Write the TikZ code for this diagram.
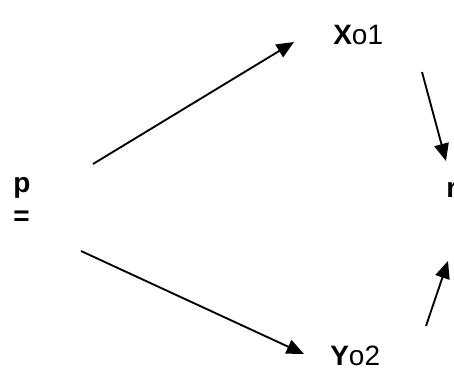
\documentclass[tikz,border=0pt]{standalone}
\usepackage{fontspec}
\setmainfont{Liberation Sans}
\usetikzlibrary{arrows.meta}
\tikzset{>={Triangle[length=13pt,width=11pt]},every node/.style={font=\fontsize{21}{25}\selectfont,inner sep=0pt},flow/.style={line width=1.4pt,->}}

\begin{document}
\begin{tikzpicture}[x=.75pt,y=-.75pt]
\useasboundingbox (0,0) rectangle (454,374);
\node[align=left,anchor=base west] (p) at (13,226) {\textbf{p}\\\textbf{=}};
\node[anchor=base west] (x) at (333,45) {\textbf{X}o1};
\node[anchor=base west] (y) at (330,366) {\textbf{Y}o2};
\node[anchor=base west] (r) at (446,198) {\textbf{r}};
\coordinate (a1) at (93,164);\coordinate (b1) at (294,42);
\coordinate (a2) at (81,251);\coordinate (b2) at (304,354);
\coordinate (a3) at (422,72);\coordinate (b3) at (446,161);
\coordinate (a4) at (426,326);\coordinate (b4) at (448,261);
\draw[flow] (a1)--(b1);\draw[flow] (a2)--(b2);
\draw[flow] (a3)--(b3);\draw[flow] (a4)--(b4);
\end{tikzpicture}
\end{document}
